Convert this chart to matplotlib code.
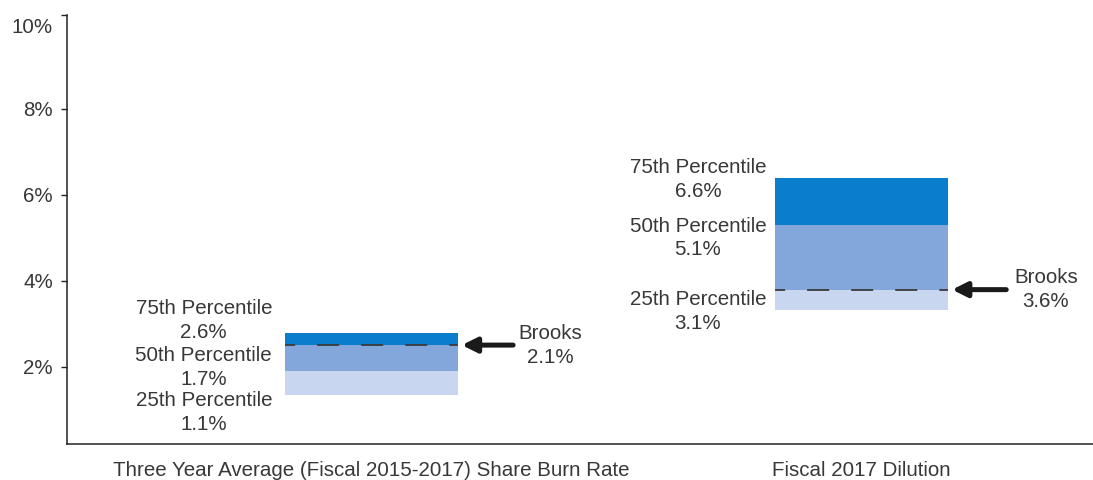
"""
Share burn rate and dilution: peer percentile bands vs. Brooks
"""

import matplotlib.pyplot as plt
from matplotlib.transforms import ScaledTranslation

# Categories and values shown in the labels
categories = ['Three Year Average (Fiscal 2015-2017) Share Burn Rate',
              'Fiscal 2017 Dilution']
p25_label = [1.1, 3.1]
p50_label = [1.7, 5.1]
p75_label = [2.6, 6.6]
brooks_label = [2.1, 3.6]

# Band edges as drawn in the picture (% on the axis)
band_low = [1.33, 3.31]
band_q1 = [1.89, 3.79]
band_q2 = [2.50, 5.30]
band_high = [2.78, 6.39]
brooks_level = [2.50, 3.79]

# vertical positions of the percentile labels (axis units)
label_y_75 = [3.07, 6.36]
label_y_50 = [1.97, 4.99]
label_y_25 = [0.94, 3.28]

c_light = '#c8d6ef'
c_mid = '#84a7db'
c_dark = '#0a7ecd'
txt = '#383838'
fs = 14.8

plt.rcParams['font.family'] = ['Liberation Sans', 'DejaVu Sans']

fig = plt.figure(figsize=(10.93, 4.8), dpi=100)
ax = fig.add_axes([0.0613, 0.075, 0.9387, 0.894])

x = [0, 1]
w = 0.353
kw = dict(ha='center', va='center', fontsize=fs, color=txt, linespacing=1.32)
for i in x:
    ax.bar(i, band_q1[i] - band_low[i], bottom=band_low[i], width=w,
           color=c_light, linewidth=0)
    ax.bar(i, band_q2[i] - band_q1[i], bottom=band_q1[i], width=w,
           color=c_mid, linewidth=0)
    ax.bar(i, band_high[i] - band_q2[i], bottom=band_q2[i], width=w,
           color=c_dark, linewidth=0)
    ax.plot([i - w / 2, i + w / 2], [brooks_level[i]] * 2,
            color='#3a3a3a', lw=1.3, linestyle=(6.6, (12.2, 12.2)),
            zorder=3)

    # percentile labels to the left of the band
    lx = i - 0.342 if i == 0 else i - 0.334
    ax.text(lx, label_y_75[i], f'75th Percentile\n{p75_label[i]}%', **kw)
    ax.text(lx, label_y_50[i], f'50th Percentile\n{p50_label[i]}%', **kw)
    ax.text(lx, label_y_25[i], f'25th Percentile\n{p25_label[i]}%', **kw)

    # Brooks arrow and label
    ax.annotate('', xy=(i + w / 2 + 0.008, brooks_level[i]),
                xytext=(i + 0.289 + (0.006 if i else 0), brooks_level[i]),
                arrowprops=dict(arrowstyle='-|>', color='#1a1a1a', lw=3.6,
                                mutation_scale=22, shrinkA=0, shrinkB=0))
    ax.text(i + 0.364 + (0.012 if i else 0), brooks_level[i],
            f'Brooks\n{brooks_label[i]}%', **kw)

ax.set_xlim(-0.621, 1.472)
ax.set_ylim(0.2, 10.18)
ax.set_yticks([2, 4, 6, 8, 10.18])
ax.set_yticklabels(['2%', '4%', '6%', '8%', '10%'])
ax.set_xticks(x)
ax.set_xticklabels(categories)

ax.spines['top'].set_visible(False)
ax.spines['right'].set_visible(False)
for s in ('left', 'bottom'):
    ax.spines[s].set_color('#222222')
    ax.spines[s].set_linewidth(1.1)
ax.tick_params(axis='y', length=4, width=1, color='#222222', pad=6,
               labelsize=fs, labelcolor=txt)
ax.tick_params(axis='x', length=0, pad=12, labelsize=fs, labelcolor=txt)

# top label sits a little below its tick in the original
top_lab = ax.get_yticklabels()[-1]
top_lab.set_transform(top_lab.get_transform()
                      + ScaledTranslation(0, -8 / 72, fig.dpi_scale_trans))

fig.savefig('out.png', dpi=100)
